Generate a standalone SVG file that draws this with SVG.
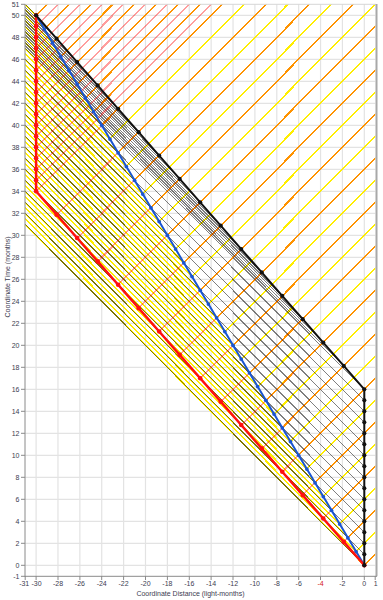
<svg xmlns="http://www.w3.org/2000/svg" width="383" height="600" viewBox="0 0 383 600">
<style>
text{font-family:"Liberation Sans",Arial,sans-serif;font-size:7px;fill:#3c3c50}
.grid{stroke:#e3e3e3;stroke-width:1.2;fill:none}
.tick{stroke:#8a8a8a;stroke-width:1}
.sig{fill:none;vector-effect:non-scaling-stroke;shape-rendering:crispEdges}
.yel{stroke:#ffee00;stroke-width:1.45}
.gry{stroke:#000;stroke-opacity:0.5;stroke-width:1}
.red{stroke:#ff0000;stroke-opacity:0.38;stroke-width:1.45}
.path{fill:none;vector-effect:non-scaling-stroke;stroke-linejoin:round}
</style>
<defs>
<clipPath id="plot" clipPathUnits="userSpaceOnUse"><rect x="-31" y="-1" width="32" height="52"/></clipPath>
<marker id="mRed" markerUnits="userSpaceOnUse" markerWidth="1" markerHeight="1" viewBox="-0.5 -0.5 1 1" overflow="visible"><circle r="0.21" fill="#ff1010"/></marker>
<marker id="mBlue" markerUnits="userSpaceOnUse" markerWidth="1" markerHeight="1" viewBox="-0.5 -0.5 1 1" overflow="visible"><circle r="0.17" fill="#1a55d0"/></marker>
<marker id="mBlack" markerUnits="userSpaceOnUse" markerWidth="1" markerHeight="1" viewBox="-0.5 -0.5 1 1" overflow="visible"><circle r="0.19" fill="#111"/></marker>
</defs>
<rect width="383" height="600" fill="#fff"/>
<g id="chart" transform="translate(364.3 565.3) scale(10.94 -11)">
<g id="grid">
<path class="grid" vector-effect="non-scaling-stroke" d="M-30 -1V51M-28 -1V51M-26 -1V51M-24 -1V51M-22 -1V51M-20 -1V51M-18 -1V51M-16 -1V51M-14 -1V51M-12 -1V51M-10 -1V51M-8 -1V51M-6 -1V51M-4 -1V51M-2 -1V51M0 -1V51M-31 0H1M-31 2H1M-31 4H1M-31 6H1M-31 8H1M-31 10H1M-31 12H1M-31 14H1M-31 16H1M-31 18H1M-31 20H1M-31 22H1M-31 24H1M-31 26H1M-31 28H1M-31 30H1M-31 32H1M-31 34H1M-31 36H1M-31 38H1M-31 40H1M-31 42H1M-31 44H1M-31 46H1M-31 48H1M-31 50H1"/>
</g>
<g id="connectors" clip-path="url(#plot)">
<path id="blue-left-signals" class="sig yel" d="M0 0l-40 40M-.75 1.25l-40 40M-1.5 2.5l-40 40M-2.25 3.75l-40 40M-3 5l-40 40M-3.75 6.25l-40 40M-4.5 7.5l-40 40M-5.25 8.75l-40 40M-6 10l-40 40M-6.75 11.25l-40 40M-7.5 12.5l-40 40M-8.25 13.75l-40 40M-9 15l-40 40M-9.75 16.25l-40 40M-10.5 17.5l-40 40M-11.25 18.75l-40 40M-12 20l-40 40M-12.75 21.25l-40 40M-13.5 22.5l-40 40M-14.25 23.75l-40 40M-15 25l-40 40M-15.75 26.25l-40 40M-16.5 27.5l-40 40M-17.25 28.75l-40 40M-18 30l-40 40M-18.75 31.25l-40 40M-19.5 32.5l-40 40M-20.25 33.75l-40 40M-21 35l-40 40M-21.75 36.25l-40 40M-22.5 37.5l-40 40M-23.25 38.75l-40 40M-24 40l-40 40M-24.75 41.25l-40 40M-25.5 42.5l-40 40M-26.25 43.75l-40 40M-27 45l-40 40M-27.75 46.25l-40 40M-28.5 47.5l-40 40M-29.25 48.75l-40 40M-30 50l-40 40"/>
<path id="blue-right-signals" class="sig yel" d="M0 0l40 40M-.75 1.25l40 40M-1.5 2.5l40 40M-2.25 3.75l40 40M-3 5l40 40M-3.75 6.25l40 40M-4.5 7.5l40 40M-5.25 8.75l40 40M-6 10l40 40M-6.75 11.25l40 40M-7.5 12.5l40 40M-8.25 13.75l40 40M-9 15l40 40M-9.75 16.25l40 40M-10.5 17.5l40 40M-11.25 18.75l40 40M-12 20l40 40M-12.75 21.25l40 40M-13.5 22.5l40 40M-14.25 23.75l40 40M-15 25l40 40M-15.75 26.25l40 40M-16.5 27.5l40 40M-17.25 28.75l40 40M-18 30l40 40M-18.75 31.25l40 40M-19.5 32.5l40 40M-20.25 33.75l40 40M-21 35l40 40M-21.75 36.25l40 40M-22.5 37.5l40 40M-23.25 38.75l40 40M-24 40l40 40M-24.75 41.25l40 40M-25.5 42.5l40 40M-26.25 43.75l40 40M-27 45l40 40M-27.75 46.25l40 40M-28.5 47.5l40 40M-29.25 48.75l40 40M-30 50l40 40"/>
<path id="black-left-signals" class="sig gry" d="M0 0l-40 40M0 1l-40 40M0 2l-40 40M0 3l-40 40M0 4l-40 40M0 5l-40 40M0 6l-40 40M0 7l-40 40M0 8l-40 40M0 9l-40 40M0 10l-40 40M0 11l-40 40M0 12l-40 40M0 13l-40 40M0 14l-40 40M0 15l-40 40M0 16l-40 40M-1.875 18.125l-40 40M-3.75 20.25l-40 40M-5.625 22.375l-40 40M-7.5 24.5l-40 40M-9.375 26.625l-40 40M-11.25 28.75l-40 40M-13.125 30.875l-40 40M-15 33l-40 40M-16.875 35.125l-40 40M-18.75 37.25l-40 40M-20.625 39.375l-40 40M-22.5 41.5l-40 40M-24.375 43.625l-40 40M-26.25 45.75l-40 40M-28.125 47.875l-40 40M-30 50l-40 40"/>
<path id="red-right-signals" class="sig red" d="M0 0l40 40M-1.875 2.125l40 40M-3.75 4.25l40 40M-5.625 6.375l40 40M-7.5 8.5l40 40M-9.375 10.625l40 40M-11.25 12.75l40 40M-13.125 14.875l40 40M-15 17l40 40M-16.875 19.125l40 40M-18.75 21.25l40 40M-20.625 23.375l40 40M-22.5 25.5l40 40M-24.375 27.625l40 40M-26.25 29.75l40 40M-28.125 31.875l40 40M-30 34l40 40M-30 35l40 40M-30 36l40 40M-30 37l40 40M-30 38l40 40M-30 39l40 40M-30 40l40 40M-30 41l40 40M-30 42l40 40M-30 43l40 40M-30 44l40 40M-30 45l40 40M-30 46l40 40M-30 47l40 40M-30 48l40 40M-30 49l40 40M-30 50l40 40"/>
</g>
<g id="traveler-blue">
<polyline class="path" stroke="#1a55d0" stroke-width="2" marker-start="url(#mBlue)" marker-mid="url(#mBlue)" marker-end="url(#mBlue)" points="0,0 -.75,1.25 -1.5,2.5 -2.25,3.75 -3,5 -3.75,6.25 -4.5,7.5 -5.25,8.75 -6,10 -6.75,11.25 -7.5,12.5 -8.25,13.75 -9,15 -9.75,16.25 -10.5,17.5 -11.25,18.75 -12,20 -12.75,21.25 -13.5,22.5 -14.25,23.75 -15,25 -15.75,26.25 -16.5,27.5 -17.25,28.75 -18,30 -18.75,31.25 -19.5,32.5 -20.25,33.75 -21,35 -21.75,36.25 -22.5,37.5 -23.25,38.75 -24,40 -24.75,41.25 -25.5,42.5 -26.25,43.75 -27,45 -27.75,46.25 -28.5,47.5 -29.25,48.75 -30,50"/>
</g>
<g id="traveler-red">
<polyline class="path" stroke="#ff1010" stroke-width="2.5" marker-start="url(#mRed)" marker-mid="url(#mRed)" marker-end="url(#mRed)" points="0,0 -1.875,2.125 -3.75,4.25 -5.625,6.375 -7.5,8.5 -9.375,10.625 -11.25,12.75 -13.125,14.875 -15,17 -16.875,19.125 -18.75,21.25 -20.625,23.375 -22.5,25.5 -24.375,27.625 -26.25,29.75 -28.125,31.875 -30,34 -30,35 -30,36 -30,37 -30,38 -30,39 -30,40 -30,41 -30,42 -30,43 -30,44 -30,45 -30,46 -30,47 -30,48 -30,49 -30,50"/>
</g>
<g id="traveler-black">
<polyline class="path" stroke="#111" stroke-width="2" marker-start="url(#mBlack)" marker-mid="url(#mBlack)" marker-end="url(#mBlack)" points="0,0 0,1 0,2 0,3 0,4 0,5 0,6 0,7 0,8 0,9 0,10 0,11 0,12 0,13 0,14 0,15 0,16 -1.875,18.125 -3.75,20.25 -5.625,22.375 -7.5,24.5 -9.375,26.625 -11.25,28.75 -13.125,30.875 -15,33 -16.875,35.125 -18.75,37.25 -20.625,39.375 -22.5,41.5 -24.375,43.625 -26.25,45.75 -28.125,47.875 -30,50"/>
</g>
</g>
<g id="axes">
<line x1="25" y1="4.3" x2="376" y2="4.3" stroke="#d6d6d6" stroke-width="1"/>
<line x1="376.5" y1="4" x2="376.5" y2="576.3" stroke="#a8a8a8" stroke-width="2"/>
<line x1="25" y1="4" x2="25" y2="577" stroke="#8a8a8a" stroke-width="1"/>
<line x1="25" y1="576.3" x2="377" y2="576.3" stroke="#8a8a8a" stroke-width="1"/>
<path class="tick" d="M21 4.3H25M21 15.3H25M21 37.3H25M21 59.3H25M21 81.3H25M21 103.3H25M21 125.3H25M21 147.3H25M21 169.3H25M21 191.3H25M21 213.3H25M21 235.3H25M21 257.3H25M21 279.3H25M21 301.3H25M21 323.3H25M21 345.3H25M21 367.3H25M21 389.3H25M21 411.3H25M21 433.3H25M21 455.3H25M21 477.3H25M21 499.3H25M21 521.3H25M21 543.3H25M21 565.3H25M21 576.3H25"/>
<path class="tick" d="M25.2 576V580M36.1 576V580M58 576V580M79.9 576V580M101.7 576V580M123.6 576V580M145.5 576V580M167.4 576V580M189.3 576V580M211.1 576V580M233 576V580M254.9 576V580M276.8 576V580M298.7 576V580M320.5 576V580M342.4 576V580M364.3 576V580M375.2 576V580"/>
<g text-anchor="end">
<text x="19.5" y="6.8">51</text>
<text x="19.5" y="17.8">50</text>
<text x="19.5" y="39.8">48</text>
<text x="19.5" y="61.8">46</text>
<text x="19.5" y="83.8">44</text>
<text x="19.5" y="105.8">42</text>
<text x="19.5" y="127.8">40</text>
<text x="19.5" y="149.8">38</text>
<text x="19.5" y="171.8">36</text>
<text x="19.5" y="193.8">34</text>
<text x="19.5" y="215.8">32</text>
<text x="19.5" y="237.8">30</text>
<text x="19.5" y="259.8">28</text>
<text x="19.5" y="281.8">26</text>
<text x="19.5" y="303.8">24</text>
<text x="19.5" y="325.8">22</text>
<text x="19.5" y="347.8">20</text>
<text x="19.5" y="369.8">18</text>
<text x="19.5" y="391.8">16</text>
<text x="19.5" y="413.8">14</text>
<text x="19.5" y="435.8">12</text>
<text x="19.5" y="457.8">10</text>
<text x="19.5" y="479.8">8</text>
<text x="19.5" y="501.8">6</text>
<text x="19.5" y="523.8">4</text>
<text x="19.5" y="545.8">2</text>
<text x="19.5" y="567.8">0</text>
<text x="19.5" y="578.8">-1</text>
</g>
<g text-anchor="middle">
<text x="24.2" y="586">-31</text>
<text x="36.6" y="586">-30</text>
<text x="58" y="586">-28</text>
<text x="79.9" y="586">-26</text>
<text x="101.7" y="586">-24</text>
<text x="123.6" y="586">-22</text>
<text x="145.5" y="586">-20</text>
<text x="167.4" y="586">-18</text>
<text x="189.3" y="586">-16</text>
<text x="211.1" y="586">-14</text>
<text x="233" y="586">-12</text>
<text x="254.9" y="586">-10</text>
<text x="276.8" y="586">-8</text>
<text x="298.7" y="586">-6</text>
<text x="320.5" y="586" style="fill:#d42020">-4</text>
<text x="342.4" y="586">-2</text>
<text x="364.3" y="586">0</text>
<text x="375.6" y="586">1</text>
<text x="190.5" y="596">Coordinate Distance (light-months)</text>
<text transform="translate(10 277) rotate(-90)">Coordinate Time (months)</text>
</g>
</g>
</svg>
